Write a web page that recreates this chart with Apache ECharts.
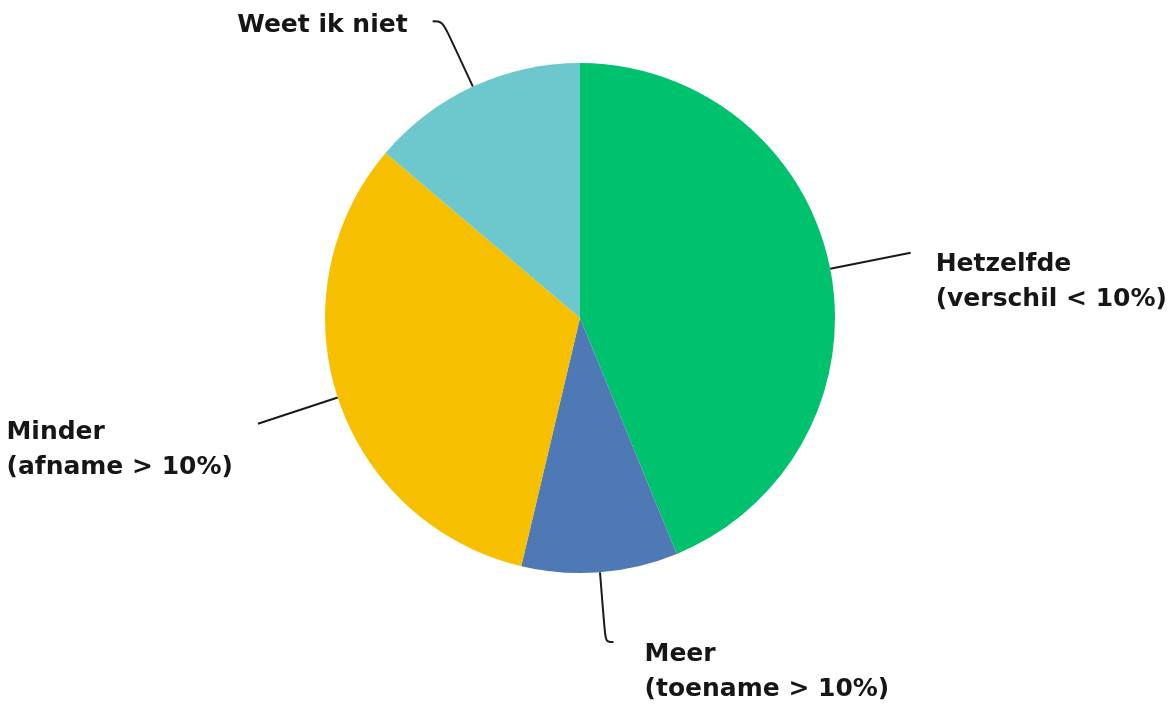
<!DOCTYPE html>
<html>
<head>
<meta charset="utf-8">
<script src="https://cdn.jsdelivr.net/npm/echarts@6/dist/echarts.min.js"></script>
<style>
  html, body { margin: 0; padding: 0; background: #fff; }
  #main { width: 1171px; height: 705px; }
</style>
</head>
<body>
<div id="main"></div>
<script>
var categories = ['Hetzelfde', 'Meer', 'Minder', 'Weet ik niet'];
var subLabels = ['(verschil < 10%)', '(toename > 10%)', '(afname > 10%)', ''];
var values = [43.8, 9.9, 32.5, 13.8];
var colors = ['#00c16e', '#4e79b5', '#f6c000', '#6dc8ce'];

// per-slice leader line tuning
var lineLen = [82, 70, 84, 72];
var lineLen2 = [0, 8, 0, 10];
var padTop = [58, 60, 52, 8];
var labelGap = [25, 31, 25, 25];

var myChart = echarts.init(document.getElementById('main'));

var data = categories.map(function (name, i) {
    var text = '{a|' + name + '}' + (subLabels[i] ? '\n{a|' + subLabels[i] + '}' : '');
    return {
        name: name,
        value: values[i],
        itemStyle: { color: colors[i] },
        label: {
            formatter: text,
            padding: [padTop[i], 0, 0, 0],
            distanceToLabelLine: labelGap[i]
        },
        labelLine: {
            length: lineLen[i],
            length2: lineLen2[i],
            smooth: lineLen2[i] > 0 ? 0.4 : false
        }
    };
});

var option = {
    backgroundColor: '#ffffff',
    animation: false,
    series: [
        {
            type: 'pie',
            center: [580, 318],
            radius: 255,
            startAngle: 90,
            clockwise: true,
            avoidLabelOverlap: false,
            data: data,
            label: {
                show: true,
                position: 'outside',
                alignTo: 'none',
                color: '#111',
                rich: {
                    a: {
                        align: 'left',
                        fontFamily: 'DejaVu Sans',
                        fontWeight: 'bold',
                        fontSize: 25,
                        lineHeight: 35,
                        color: '#161616'
                    }
                }
            },
            labelLine: {
                show: true,
                lineStyle: { color: '#1a1a1a', width: 2 }
            },
            emphasis: { disabled: true }
        }
    ]
};
myChart.setOption(option);
</script>
</body>
</html>
